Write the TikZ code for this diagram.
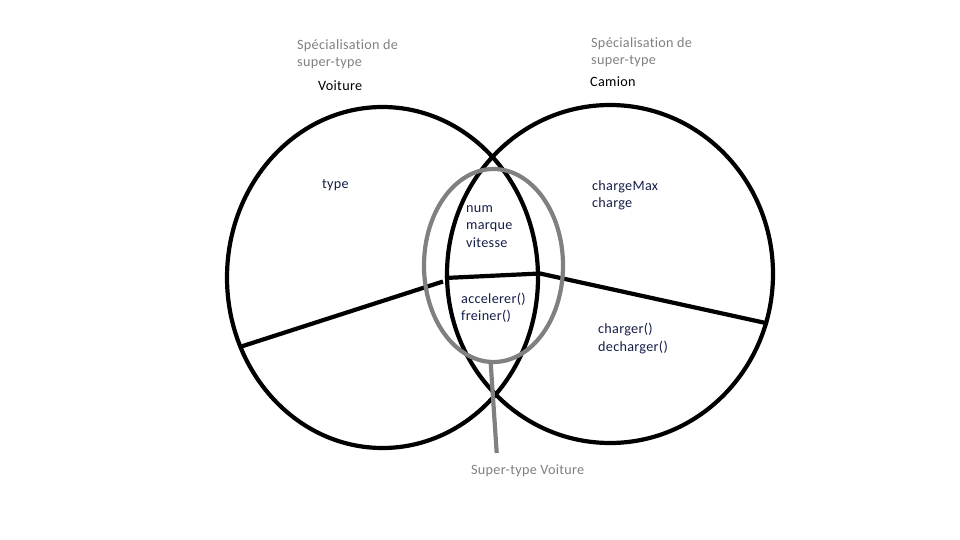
\documentclass[tikz,border=0pt]{standalone}
\usepackage{fontspec}
\setmainfont{Carlito}[Ligatures={NoCommon},LetterSpace=2]
\definecolor{navytxt}{RGB}{22,30,72}
\definecolor{graytxt}{RGB}{128,128,128}
\definecolor{grayline}{RGB}{128,128,128}
\begin{document}
\begin{tikzpicture}[x=1pt,y=-1pt,
  blk/.style={draw=black,line width=4.2pt},
  gry/.style={draw=grayline,line width=4.2pt},
  lbl/.style={anchor=west,inner sep=0pt,align=left,font=\fontsize{14.2}{17.5}\selectfont,text=navytxt},
  glbl/.style={lbl,text=graytxt},
  tlbl/.style={lbl,text=black}]
\useasboundingbox (0,0) rectangle (960,540);
% circles
\draw[blk] (382.5,277.5) ellipse [x radius=155.5, y radius=170.5];
\draw[blk] (610,274) ellipse [x radius=163, y radius=169];
% dividing lines
\coordinate (l1) at (240.7,346.7);
\coordinate (l2) at (443,281.5);
\coordinate (m1) at (445,278);
\coordinate (m2) at (540,273.5);
\coordinate (r2) at (768,323.5);
\draw[blk] (l1) -- (l2);
\draw[blk] (m1) -- (m2) -- (r2);
% gray ellipse and stem
\draw[gry] (493.5,265.5) ellipse [x radius=69.5, y radius=96.5];
\coordinate (s1) at (490.7,363);
\coordinate (s2) at (496.7,453);
\draw[gry] (s1) -- (s2);
% labels
\node[glbl] (spl) at (297,54) {Spécialisation de\\super-type};
\node[tlbl] (voit) at (318,86) {Voiture};
\node[glbl] (spr) at (591,52) {Spécialisation de\\super-type};
\node[tlbl] (cam) at (590,82) {Camion};
\node[lbl] (typ) at (322,185) {type};
\node[lbl] (attr) at (466,226.5) {num\\marque\\vitesse};
\node[lbl] (meth) at (461,308) {accelerer()\\freiner()};
\node[lbl] (cattr) at (592,195.5) {chargeMax\\charge};
\node[lbl] (cmeth) at (598,338.5) {charger()\\decharger()};
\node[glbl] (sup) at (471,471) {Super-type Voiture};
\end{tikzpicture}
\end{document}
